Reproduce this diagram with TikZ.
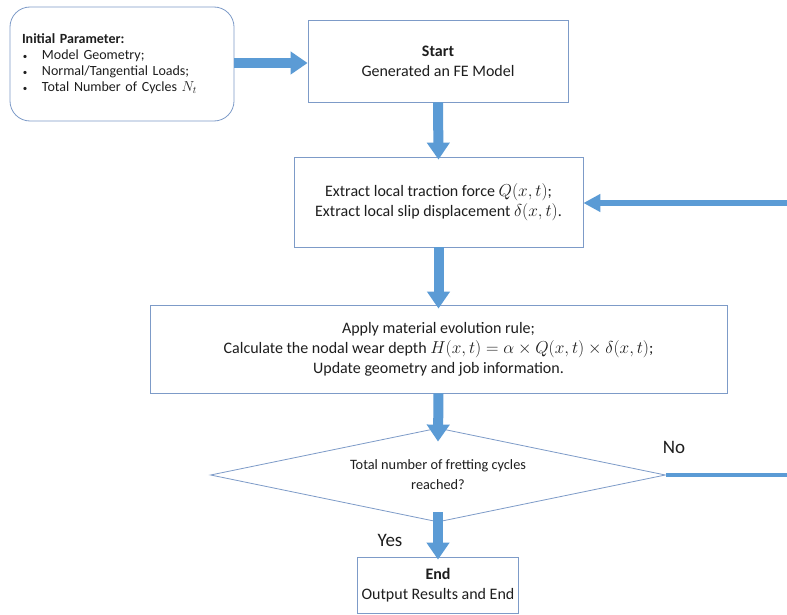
\documentclass[tikz,border=0pt]{standalone}
\usepackage{fontspec}
\setmainfont{Carlito}
\usetikzlibrary{arrows.meta,shapes.geometric}

\definecolor{flowblue}{RGB}{91,155,213}
\definecolor{edgeblue}{RGB}{125,155,200}
\definecolor{ink}{RGB}{30,30,30}

\tikzset{
  stepbox/.style={draw=edgeblue, line width=0.8pt, fill=white, align=center,
    text=ink, inner sep=0pt, font=\fontsize{16}{20}\selectfont},
  decision/.style={diamond, draw=edgeblue, line width=0.8pt, fill=white,
    aspect=5, inner sep=0pt, align=center, text=ink,
    font=\fontsize{14.3}{20}\selectfont},
  parambox/.style={draw=edgeblue, line width=0.8pt, rounded corners=20pt,
    text width=200pt, inner xsep=12pt, inner ysep=0pt, align=left, text=ink,
    font=\fontsize{14}{16}\selectfont},
  bigarrow/.style={draw=flowblue, line width=10pt,
    -{Triangle[width=22pt,length=17pt]}},
  backarrow/.style={draw=flowblue, line width=6.5pt,
    -{Triangle[width=17pt,length=17pt]}},
  branchlabel/.style={text=ink, font=\fontsize{19}{20}\selectfont},
}

\newcommand{\bulletitem}{\hspace*{1pt}\makebox[19pt][l]{\small\textbullet}}

\begin{document}
\begin{tikzpicture}[x=1pt,y=-1pt]
  \useasboundingbox (0,0) rectangle (787,615);
  \fill[white] (0,0) rectangle (787,615);

  % input parameters
  \node[parambox, minimum height=114pt] (init) at (122,64)
    {\textbf{Initial Parameter:}\\
     \bulletitem Model Geometry;\\
     \bulletitem Normal/Tangential Loads;\\
     \bulletitem Total Number of Cycles $N_t$};

  % process steps
  \node[stepbox, minimum width=260pt, minimum height=82pt] (start) at (438,61)
    {\textbf{Start}\\Generated an FE Model};

  \node[stepbox, minimum width=289pt, minimum height=90pt] (extract) at (438.5,202)
    {Extract local traction force $Q(x,t)$;\\
     Extract local slip displacement $\delta(x,t)$.};

  \node[stepbox, minimum width=577pt, minimum height=88pt] (update) at (438.5,349)
    {Apply material evolution rule;\\
     Calculate the nodal wear depth $H(x,t)=\alpha\times Q(x,t)\times\delta(x,t)$;\\
     Update geometry and job information.};

  \node[decision, minimum width=455pt, minimum height=94pt] (check) at (438,475)
    {Total number of fretting cycles\\reached?};

  \node[stepbox, minimum width=161pt, minimum height=56pt] (finish) at (438,585)
    {\textbf{End}\\Output Results and End};

  % loop-back ends at the right margin
  \coordinate (loopin) at (787,203);
  \coordinate (loopout) at (787,475);

  % connectors
  \draw[bigarrow] (init.east |- 0,63) -- (start.west |- 0,63);
  \draw[bigarrow] (start.south) -- ([yshift=-3pt]extract.north);
  \draw[bigarrow] (extract.south) -- ([yshift=-4pt]update.north);
  \draw[bigarrow] (update.south) -- ([yshift=-14pt]check.north);
  \draw[bigarrow] ([yshift=10pt]check.south) -- ([yshift=-3pt]finish.north);
  \draw[draw=flowblue, line width=4.5pt] (check.east) -- (loopout);
  \draw[backarrow] (loopin) -- (extract.east |- loopin);

  % branch labels
  \node[branchlabel] (yes) at (390,540) {Yes};
  \node[branchlabel] (no) at (674,447) {No};
\end{tikzpicture}
\end{document}
